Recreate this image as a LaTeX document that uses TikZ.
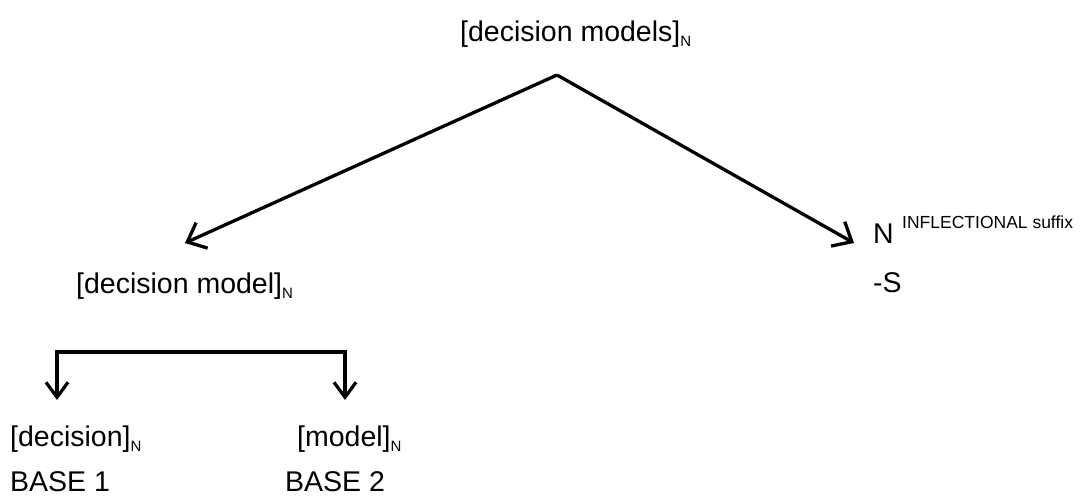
\documentclass[tikz,border=0pt]{standalone}
\usepackage{fontspec}
\setmainfont{Liberation Sans}
\usetikzlibrary{arrows.meta}
\newcommand{\subN}{\raisebox{-5pt}{\fontsize{15}{15}\selectfont N}}
\begin{document}
\begin{tikzpicture}[x=1pt,y=-1pt,
  lbl/.style={anchor=base west, inner sep=0pt, font=\fontsize{28.5}{34}\selectfont},
  suplbl/.style={anchor=base west, inner sep=0pt, font=\fontsize{17.5}{20}\selectfont},
  conn/.style={line width=3.3pt, -{Straight Barb[length=16pt,width=28pt,line width=3.3pt]}},
  bar/.style={line width=3.2pt, line join=miter,
    {Straight Barb[length=15pt,width=22pt,line width=3.2pt]}-{Straight Barb[length=15pt,width=22pt,line width=3.2pt]}}]
\useasboundingbox (0,0) rectangle (1083,497);
\node[lbl] (top) at (460,42) {[decision models]\subN};
\coordinate (apex) at (557,75);
\coordinate (tipL) at (185,243);
\coordinate (tipR) at (854,243);
\draw[conn] (apex) -- (tipL);
\draw[conn] (apex) -- (tipR);
\node[lbl] (dm) at (76,293) {[decision model]\subN};
\node[lbl] (Nsuf) at (873,243) {N};
\node[suplbl] (sup) at (902,228) {INFLECTIONAL suffix};
\node[lbl] (s) at (873,292) {-S};
\coordinate (bL) at (57,352);
\coordinate (bR) at (345,352);
\coordinate (tipB1) at (57,400);
\coordinate (tipB2) at (345,400);
\draw[bar] (tipB1) -- (bL) -- (bR) -- (tipB2);
\node[lbl] (dec) at (10,446) {[decision]\subN};
\node[lbl] (mod) at (297,446) {[model]\subN};
\node[lbl] (b1) at (10,491) {BASE 1};
\node[lbl] (b2) at (285,491) {BASE 2};
\end{tikzpicture}
\end{document}
